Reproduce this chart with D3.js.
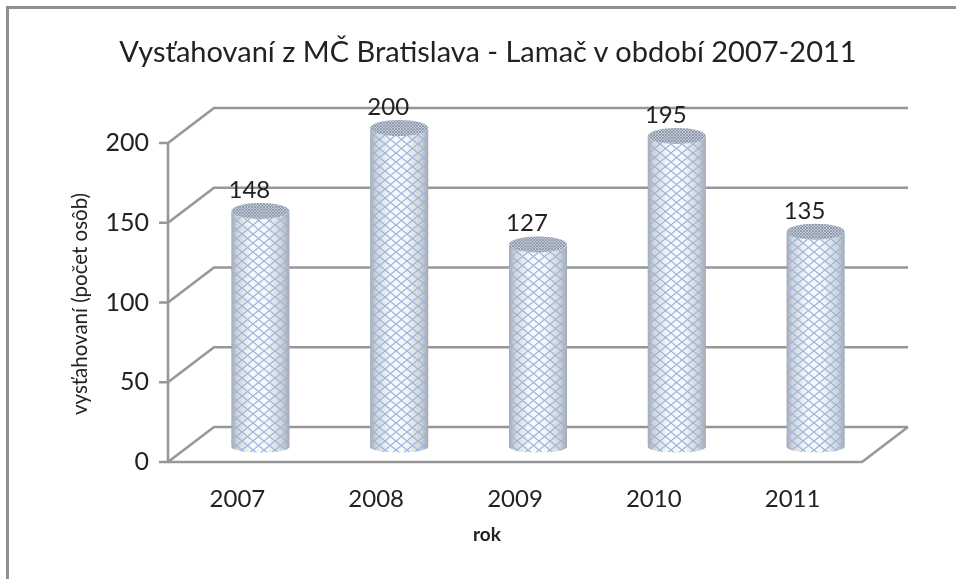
<!DOCTYPE html>
<html><head><meta charset="utf-8">
<script src="https://cdn.jsdelivr.net/npm/d3@7"></script>
<style>html,body{margin:0;padding:0;background:#fff}svg{display:block}text{font-family:Lato,"Open Sans",sans-serif;fill:#222}</style>
</head><body><div id="c"></div>
<script>
const years = ["2007","2008","2009","2010","2011"];
const values = [148,200,127,195,135];
const yTicks = [0,50,100,150,200];
const titleText = "Vysťahovaní z MČ Bratislava - Lamač v období 2007-2011";
const yTitle = "vysťahovaní (počet osôb)";
const xTitle = "rok";

const W=956,H=579, depthX=46, depthY=35, barShift=15;
const svg=d3.select("#c").append("svg").attr("width",W).attr("height",H);
const defs=svg.append("defs");
const x=d3.scaleBand().domain(years).range([168,862]);
const y=d3.scaleLinear().domain([0,200]).range([462,143]);
const rx=29, ry=8, ryBottom=5.5;

const blur=defs.append("filter").attr("id","soft").attr("x","-5%").attr("y","-5%").attr("width","110%").attr("height","110%");
blur.append("feGaussianBlur").attr("stdDeviation",0.6);
const tblur=defs.append("filter").attr("id","softText").attr("x","-5%").attr("y","-5%").attr("width","110%").attr("height","110%");
tblur.append("feGaussianBlur").attr("stdDeviation",0.35);

const shade=defs.append("linearGradient").attr("id","shade");
[[0,"#a6a7ab"],[0.1,"#d2d3d6"],[0.35,"#f8f8f9"],[0.6,"#f8f8f9"],[0.88,"#d0d1d4"],[1,"#a6a7ab"]]
 .forEach(([o,c])=>shade.append("stop").attr("offset",o).attr("stop-color",c));

const hatch=defs.append("pattern").attr("id","hatch").attr("patternUnits","userSpaceOnUse").attr("width",11).attr("height",9);
hatch.append("path").attr("d","M0,0L11,9M11,0L0,9").attr("stroke","#97b7df").attr("stroke-width",1.25).attr("fill","none");
const fine=defs.append("pattern").attr("id","fine").attr("patternUnits","userSpaceOnUse").attr("width",3).attr("height",3);
fine.append("rect").attr("width",3).attr("height",3).attr("fill","#c2c9d3");
fine.append("path").attr("d","M0,0L3,3M3,0L0,3").attr("stroke","#7d8da3").attr("stroke-width",0.7);

// frame
svg.append("path").attr("d",`M${W},7.5H7.5V${H}`).attr("fill","none").attr("stroke","#8f8f8f").attr("stroke-width",3);

// walls and floor
const grid=svg.append("g").attr("fill","none").attr("stroke","#979797").attr("stroke-width",2.6).attr("filter","url(#soft)");
const x0=x.range()[0], x1=x.range()[1];
yTicks.forEach(t=>{
  grid.append("path").attr("d",`M${x0-9},${y(t)}H${x0}L${x0+depthX},${y(t)-depthY}H${x1+depthX}`);
});
grid.append("path").attr("d",`M${x0},${y(0)}V${y(200)}`);
grid.append("path").attr("d",`M${x0},${y(0)}H${x1}L${x1+depthX},${y(0)-depthY}`);

// cylinders
const cx=d=>x(d)+x.bandwidth()/2+depthX/2;
const base=y(0)-barShift;
const hgt=v=>y(0)-y(v);
const bars=svg.append("g").attr("filter","url(#soft)");
years.forEach((yr,i)=>{
  const c=cx(yr), top=base-hgt(values[i]);
  const body=`M${c-rx},${top}V${base}A${rx},${ryBottom} 0 0 0 ${c+rx},${base}V${top}A${rx},${ry} 0 0 1 ${c-rx},${top}Z`;
  bars.append("path").attr("d",body).attr("fill","url(#shade)");
  bars.append("path").attr("d",body).attr("fill","url(#hatch)");
  bars.append("ellipse").attr("cx",c).attr("cy",top).attr("rx",rx).attr("ry",ry).attr("fill","url(#fine)");
});

const txt=svg.append("g").attr("filter","url(#softText)");
// value labels
years.forEach((yr,i)=>{
  txt.append("text").attr("x",cx(yr)-11).attr("y",base-hgt(values[i])-13).attr("text-anchor","middle")
    .attr("font-size",24).text(values[i]);
});
// tick labels
yTicks.forEach(t=>{
  txt.append("text").attr("x",149).attr("y",y(t)+8).attr("text-anchor","end").attr("font-size",25).text(t);
});
years.forEach(yr=>{
  txt.append("text").attr("x",x(yr)+x.bandwidth()/2).attr("y",507).attr("text-anchor","middle").attr("font-size",24).text(yr);
});
txt.append("text").attr("x",488).attr("y",62).attr("text-anchor","middle").attr("font-size",29).text(titleText);
txt.append("text").attr("transform","translate(87,304) rotate(-90)").attr("text-anchor","middle").attr("font-size",20.5).text(yTitle);
txt.append("text").attr("x",487).attr("y",541).attr("text-anchor","middle").attr("font-size",19).attr("font-weight",700).text(xTitle);
</script></body></html>
